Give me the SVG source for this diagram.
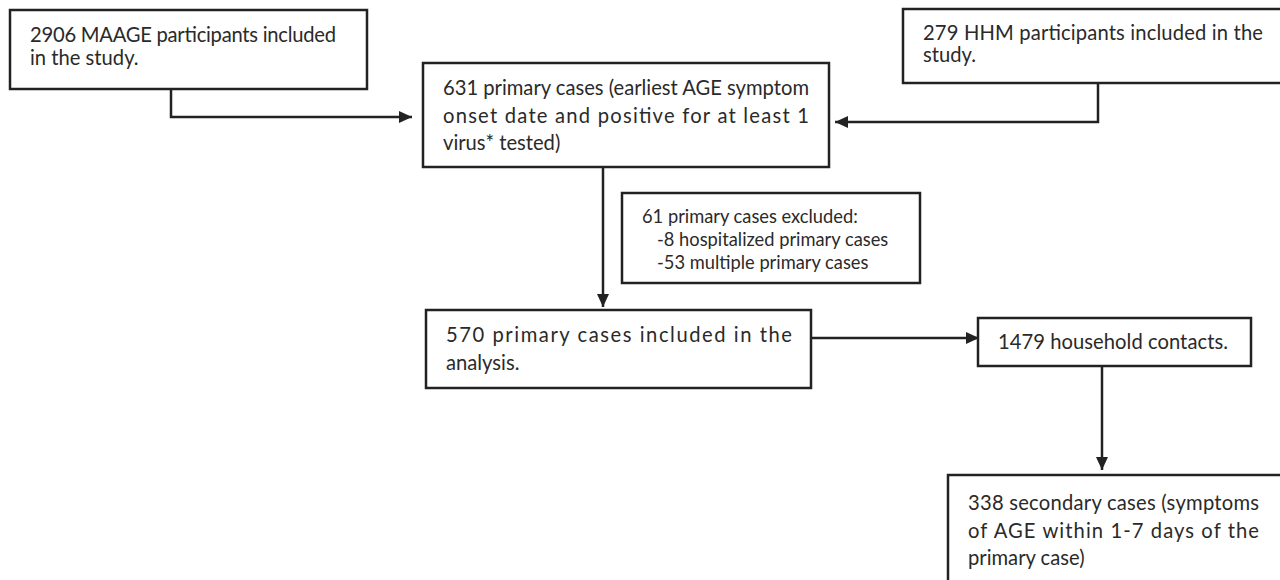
<svg xmlns="http://www.w3.org/2000/svg" width="1280" height="580" viewBox="0 0 1280 580">
<defs>
<style>
.box{fill:#fff;stroke:#222;stroke-width:2.5}
.t{font-family:Lato,"Open Sans","Liberation Sans",sans-serif;font-size:20.2px;fill:#2a2a2a}
.s{font-size:18.3px}
.c{fill:none;stroke:#222;stroke-width:2.5}
</style>
<marker id="ah" markerUnits="userSpaceOnUse" markerWidth="14" markerHeight="14" refX="13" refY="7" orient="auto">
<path d="M0,1 L13,7 L0,13 z" fill="#222"/>
</marker>
</defs>
<rect width="1280" height="580" fill="#fff"/>
<g id="connectors">
<path class="c" d="M171,89 V117 H412" marker-end="url(#ah)"/>
<path class="c" d="M1098,83 V122 H835" marker-end="url(#ah)"/>
<path class="c" d="M603,167 V307" marker-end="url(#ah)"/>
<path class="c" d="M811,338 H979" marker-end="url(#ah)"/>
<path class="c" d="M1102,366 V470" marker-end="url(#ah)"/>
</g>
<g id="maage">
<rect class="box" x="10" y="10" width="357" height="79"/>
<text class="t" x="30" y="42" textLength="306">2906 MAAGE participants included</text>
<text class="t" x="30" y="65">in the study.</text>
</g>
<g id="hhm">
<rect class="box" x="903" y="9" width="390" height="74"/>
<text class="t" x="923" y="40" textLength="340">279 HHM participants included in the</text>
<text class="t" x="923" y="62">study.</text>
</g>
<g id="primary">
<rect class="box" x="423" y="63" width="406" height="104"/>
<text class="t" x="443" y="95" textLength="366">631 primary cases (earliest AGE symptom</text>
<text class="t" x="443" y="123" textLength="366">onset date and positive for at least 1</text>
<text class="t" x="443" y="150">virus* tested)</text>
</g>
<g id="excluded">
<rect class="box" x="622" y="193" width="298" height="90"/>
<text class="t s" x="642" y="223">61 primary cases excluded:</text>
<text class="t s" x="657" y="246">-8 hospitalized primary cases</text>
<text class="t s" x="657" y="269">-53 multiple primary cases</text>
</g>
<g id="included">
<rect class="box" x="426" y="310" width="385" height="78"/>
<text class="t" x="446" y="342" textLength="346">570 primary cases included in the</text>
<text class="t" x="446" y="370">analysis.</text>
</g>
<g id="contacts">
<rect class="box" x="978" y="318" width="273" height="48"/>
<text class="t" x="998" y="349" textLength="230">1479 household contacts.</text>
</g>
<g id="secondary">
<rect class="box" x="948" y="475" width="340" height="120"/>
<text class="t" x="968" y="510" textLength="291">338 secondary cases (symptoms</text>
<text class="t" x="968" y="538" textLength="291">of AGE within 1-7 days of the</text>
<text class="t" x="968" y="565">primary case)</text>
</g>
</svg>
